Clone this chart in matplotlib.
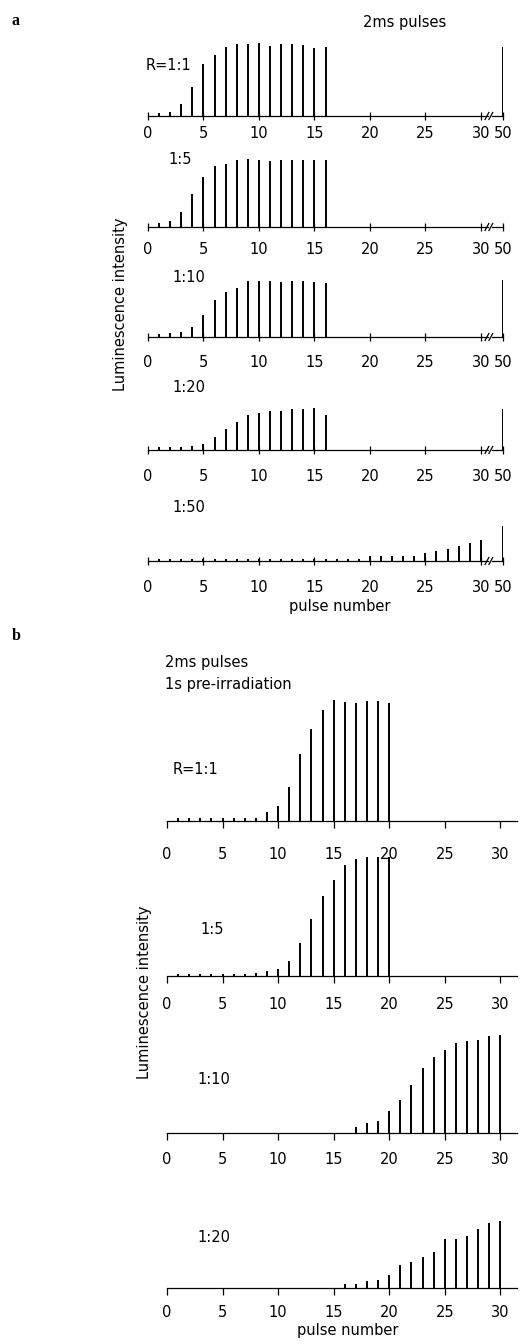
import numpy as np
import matplotlib
matplotlib.use("Agg")
import matplotlib.pyplot as plt

# ---------------- data (panel a) ----------------
a_labels = ["R=1:1", "1:5", "1:10", "1:20", "1:50"]
a_pulses_1 = list(range(1, 17)) + [50]
a_r1 = [3, 4, 12, 29, 52, 61, 69, 72, 72, 73, 70, 72, 72, 71, 68, 69, 69]
a_r5 = [4, 6, 15, 33, 50, 61, 63, 67, 68, 67, 66, 67, 67, 67, 67, 67, 0]
a_r10 = [3, 4, 5, 10, 22, 37, 45, 49, 56, 56, 56, 55, 56, 56, 55, 54, 57]
a_r20 = [3, 3, 3, 4, 6, 13, 21, 28, 35, 37, 39, 39, 41, 41, 42, 35, 41]
a_pulses_50 = list(range(1, 31)) + [50]
a_r50 = [2] * 19 + [5, 5, 5, 5, 5, 8, 10, 12, 15, 18, 21, 35]
a_ticks = [0, 5, 10, 15, 20, 25, 30, 50]

# ---------------- data (panel b) ----------------
b_labels = ["R=1:1", "1:5", "1:10", "1:20"]
b_pulses = list(range(1, 31))
b_r1 = [3, 3, 3, 3, 3, 3, 3, 3, 9, 15, 34, 67, 92, 111, 121, 119, 118, 120, 120, 118] + [0] * 10
b_r5 = [2, 2, 2, 2, 2, 2, 2, 3, 5, 7, 15, 33, 57, 80, 96, 111, 117, 119, 119, 119] + [0] * 10
b_r10 = [0] * 16 + [6, 10, 12, 22, 33, 48, 65, 76, 83, 90, 92, 93, 97, 98]
b_r20 = [0] * 15 + [4, 4, 7, 8, 13, 23, 26, 31, 36, 49, 49, 52, 59, 65, 67]
b_ticks = [0, 5, 10, 15, 20, 25, 30]

W, H = 523, 1344
fig = plt.figure(figsize=(W / 100, H / 100), dpi=100)
FONT = "DejaVu Sans"
FS = 10.5


def add_ax(left, base, width, height):
    return fig.add_axes([left / W, 1 - base / H, width / W, height / H])


def ftext(x, y, s, **kw):
    kw.setdefault("fontsize", FS)
    kw.setdefault("family", FONT)
    fig.text(x / W, 1 - y / H, s, **kw)


def fwd(x):
    x = np.asarray(x, dtype=float)
    return np.where(x <= 30, x, 30 + (x - 30) * 0.1)


def inv(y):
    y = np.asarray(y, dtype=float)
    return np.where(y <= 30, y, 30 + (y - 30) * 10)


def style(ax, pad):
    for s in ["top", "right", "left"]:
        ax.spines[s].set_visible(False)
    ax.set_yticks([])
    ax.patch.set_alpha(0)
    ax.tick_params(axis="x", labelsize=FS, pad=pad, width=0.9)
    for lab in ax.get_xticklabels():
        lab.set_family(FONT)


# ---------------- panel a ----------------
a_series = [(a_pulses_1, a_r1), (a_pulses_1, a_r5), (a_pulses_1, a_r10),
            (a_pulses_1, a_r20), (a_pulses_50, a_r50)]
a_bases = [116, 227, 337, 450, 561]
a_pads = [4, 8, 10, 11, 11]
a_lab_pos = [(146, 65), (168, 160), (172, 278), (172, 388), (172, 508)]
for (px, vals), base, pad, lab, lp in zip(a_series, a_bases, a_pads, a_labels, a_lab_pos):
    ax = add_ax(148, base, 355, 80)
    ax.set_xscale("function", functions=(fwd, inv))
    ax.set_xlim(0, 50)
    ax.set_ylim(0, 80)
    ax.spines["bottom"].set_visible(False)
    b0, b1 = float(inv(30.62)), float(inv(31.0))
    ax.plot([0, b0], [0, 0], color="k", lw=0.9, clip_on=False)
    ax.plot([b1, 50], [0, 0], color="k", lw=0.9, clip_on=False)
    for c in (30.55, 30.9):
        ax.plot([float(inv(c - 0.17)), float(inv(c + 0.17))], [-3.5, 3.5],
                color="k", lw=0.9, clip_on=False)
    ax.vlines(px, 0, vals, colors="k", lw=1.4)
    ax.set_xticks(a_ticks)
    ax.set_xticklabels([str(t) for t in a_ticks])
    ax.tick_params(axis="x", direction="inout", length=6)
    style(ax, pad)
    ftext(lp[0], lp[1], lab, va="center", ha="left")

ftext(363, 22, "2ms pulses", va="center", ha="left")
ftext(120, 304, "Luminescence intensity", rotation=90, va="center", ha="center")
ftext(340, 606, "pulse number", va="center", ha="center")
fig.text(12 / W, 1 - 21 / H, "a", fontsize=11.5, family="Liberation Serif",
         fontweight="bold", va="center", ha="left")

# ---------------- panel b ----------------
b_series = [b_r1, b_r5, b_r10, b_r20]
b_bases = [821, 976, 1133, 1288]
b_pads = [14, 10, 9, 7]
b_lab_pos = [(173, 770), (200, 930), (197, 1079), (197, 1238)]
for vals, base, pad, lab, lp in zip(b_series, b_bases, b_pads, b_labels, b_lab_pos):
    ax = add_ax(167, base, 350, 125)
    ax.set_xlim(0, 31.5)
    ax.set_ylim(0, 125)
    ax.spines["bottom"].set_linewidth(0.9)
    ax.vlines(b_pulses, 0, vals, colors="k", lw=1.4)
    ax.set_xticks(b_ticks)
    ax.tick_params(axis="x", direction="out", length=5)
    style(ax, pad)
    ftext(lp[0], lp[1], lab, va="center", ha="left")

ftext(165, 662, "2ms pulses", va="center", ha="left")
ftext(165, 684, "1s pre-irradiation", va="center", ha="left")
ftext(145, 992, "Luminescence intensity", rotation=90, va="center", ha="center")
ftext(348, 1331, "pulse number", va="center", ha="center")
fig.text(12 / W, 1 - 636 / H, "b", fontsize=11.5, family="Liberation Serif",
         fontweight="bold", va="center", ha="left")

fig.savefig("out.png", dpi=100)
